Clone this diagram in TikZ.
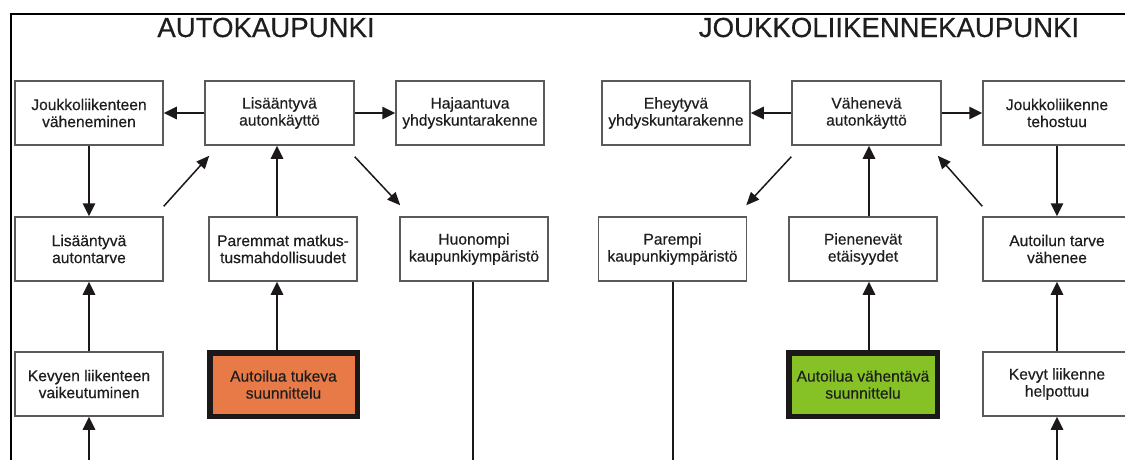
\documentclass[tikz,border=0pt]{standalone}
\usepackage{fontspec}
\setmainfont{Liberation Sans}
\newfontfamily\heavyfont[FakeBold=0.4]{Liberation Sans}
\usetikzlibrary{arrows.meta}
\definecolor{boxline}{RGB}{90,90,90}
\definecolor{txt}{RGB}{30,30,30}
\definecolor{orangefill}{RGB}{232,122,72}
\definecolor{greenfill}{RGB}{134,194,38}
\definecolor{heavy}{RGB}{28,24,24}
\tikzset{
  x=1pt, y=-1pt,
  box/.style={draw=boxline, line width=1.5pt, fill=white, rectangle,
    minimum width=148pt, minimum height=64pt, inner sep=0pt, align=center,
    text=txt, font=\heavyfont\fontsize{15.6}{17}\selectfont},
  planbox/.style={box, draw=heavy, line width=5.5pt, minimum width=147.5pt, minimum height=63.5pt},
  title/.style={anchor=base, text=txt, font=\heavyfont\fontsize{27.6}{30}\selectfont},
  arr/.style={draw=heavy, line width=2.6pt, -{Triangle[length=13pt,width=12pt]}},
  plain/.style={draw=heavy, line width=2.6pt},
  diag/.style={draw=heavy, line width=1.5pt, -{Triangle[length=13pt,width=11pt]}},
  frame/.style={draw=black, line width=2.2pt}
}
\begin{document}
\begin{tikzpicture}
\useasboundingbox (0,0) rectangle (1125,459);
% frame
\draw[frame] (11,460) -- (11,14) -- (1126,14);
% titles
\node[title] (t1) at (266,37) {AUTOKAUPUNKI};
\node[title] (t2) at (889,37) {JOUKKOLIIKENNEKAUPUNKI};
% row 1
\node[box] (A1) at (89,113) {Joukkoliikenteen\\väheneminen};
\node[box, minimum width=149pt] (A2) at (279.5,113) {Lisääntyvä\\autonkäyttö};
\node[box] (A3) at (470,113) {Hajaantuva\\yhdyskuntarakenne};
\node[box] (B1) at (676,113) {Eheytyvä\\yhdyskuntarakenne};
\node[box, minimum width=149pt] (B2) at (866.5,113) {Vähenevä\\autonkäyttö};
\node[box] (B3) at (1057,113) {Joukkoliikenne\\tehostuu};
% row 2
\node[box] (A4) at (89,249) {Lisääntyvä\\autontarve};
\node[box] (A5) at (283,249) {Paremmat matkus-\\tusmahdollisuudet};
\node[box] (A6) at (474,249) {Huonompi\\kaupunkiympäristö};
\node[box] (B4) at (672.5,249) {Parempi\\kaupunkiympäristö};
\node[box] (B5) at (863,249) {Pienenevät\\etäisyydet};
\node[box] (B6) at (1057,249) {Autoilun tarve\\vähenee};
% row 3
\node[box] (A7) at (89,384) {Kevyen liikenteen\\vaikeutuminen};
\node[planbox, fill=orangefill] (A8) at (283.5,384.5) {Autoilua tukeva\\suunnittelu};
\node[planbox, fill=greenfill, minimum width=148.5pt] (B7) at (863,384.5) {Autoilua vähentävä\\suunnittelu};
\node[box] (B8) at (1057,384) {Kevyt liikenne\\helpottuu};
% free ends at the bottom
\coordinate (A7in) at (89,460);
\coordinate (B8in) at (1057,460);
\coordinate (A6out) at (473,460);
\coordinate (B4out) at (673,460);
% horizontal arrows
\draw[arr] (A2.west) -- (A1.east);
\draw[arr] (A2.east) -- (A3.west);
\draw[arr] (B2.west) -- (B1.east);
\draw[arr] (B2.east) -- (B3.west);
% vertical arrows, left
\draw[arr] (A1.south) -- (A4.north);
\draw[arr] (A7.north) -- (A4.south);
\draw[arr] (A7in) -- (A7.south);
\draw[arr] ([shift={(-6,0)}]A5.north) -- ([shift={(-6,0)}]A5.north |- A2.south);
\draw[arr] ([shift={(-6.5,0)}]A8.north) -- ([shift={(-6,0)}]A5.south);
\draw[plain] ([shift={(-1,0)}]A6.south) -- (A6out);
% vertical arrows, right
\draw[arr] ([shift={(6,0)}]B5.north) -- ([shift={(6,0)}]B5.north |- B2.south);
\draw[arr] ([shift={(6,0)}]B7.north) -- ([shift={(6,0)}]B5.south);
\draw[plain] ([shift={(0.5,0)}]B4.south) -- (B4out);
\draw[arr] (B3.south) -- (B6.north);
\draw[arr] (B8.north) -- (B6.south);
\draw[arr] (B8in) -- (B8.south);
% diagonal arrows
\draw[diag] ([shift={(0,-10)}]A4.north east) -- ([shift={(5,10)}]A2.south west);
\draw[diag] ([shift={(0,11)}]A2.south east) -- ([shift={(1,-11)}]A6.north west);
\draw[diag] ([shift={(0,11)}]B2.south west) -- ([shift={(-1,-11)}]B4.north east);
\draw[diag] ([shift={(0,-10)}]B6.north west) -- ([shift={(-4,10)}]B2.south east);
\end{tikzpicture}
\end{document}
